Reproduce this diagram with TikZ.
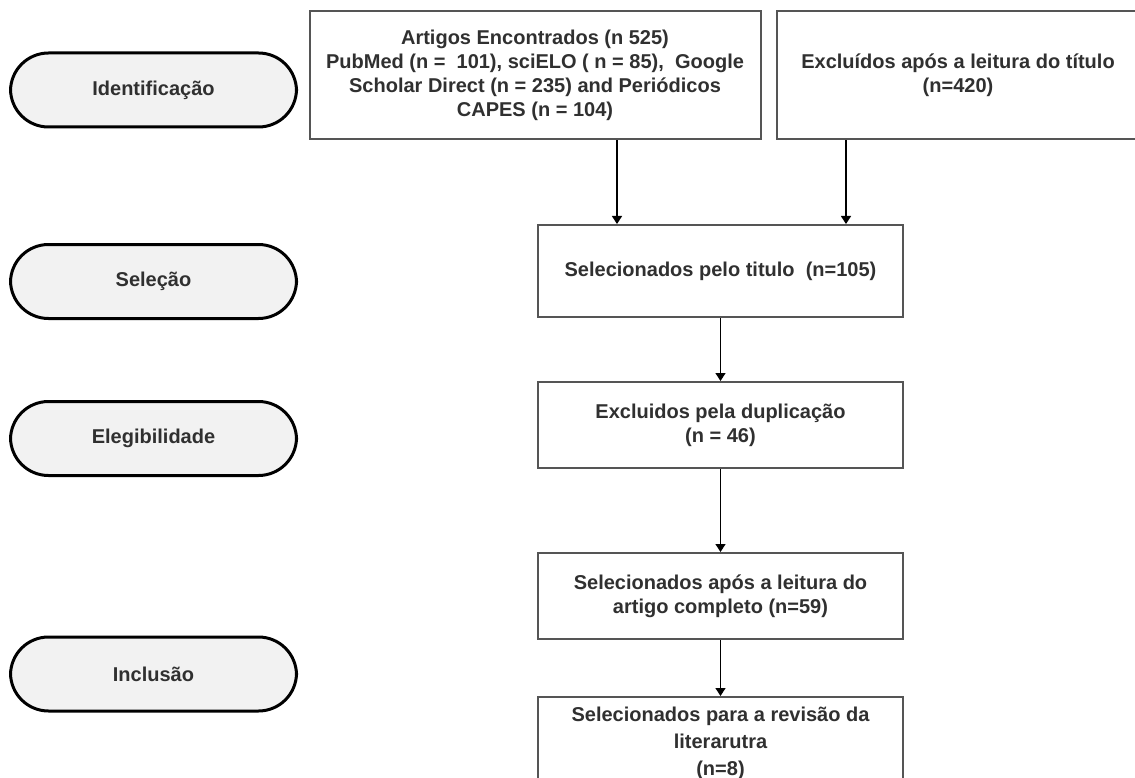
\documentclass[tikz,border=0pt]{standalone}
\usepackage{fontspec}
\setmainfont{Liberation Sans}
\usetikzlibrary{arrows.meta}
\definecolor{txt}{HTML}{303030}
\definecolor{boxline}{HTML}{555555}
\definecolor{pillfill}{HTML}{F2F2F2}
\tikzset{
  pill/.style={draw=black, line width=3pt, fill=pillfill, rounded corners=38pt,
    minimum width=286pt, minimum height=74pt, inner sep=0pt,
    font=\fontsize{20}{24}\selectfont\bfseries, text=txt},
  flowbox/.style={draw=boxline, line width=2pt, fill=white, inner sep=0pt,
    align=center, font=\fontsize{20}{24}\selectfont\bfseries, text=txt},
  arr/.style={draw=black, line width=1.3pt, -{Triangle[length=8pt,width=10pt]}}
}
\begin{document}
\begin{tikzpicture}[x=1pt,y=-1pt]
\useasboundingbox (0,0) rectangle (1135,778);
\clip (0,0) rectangle (1135,778);
% phase pills
\node[pill] (id)  at (153.5,90)  {Identificação};
\node[pill] (sel) at (153.5,281.5) {Seleção};
\node[pill] (ele) at (153.5,438.5) {Elegibilidade};
\node[pill] (inc) at (153.5,674) {Inclusão};
% flow boxes
\node[flowbox, minimum width=451pt, minimum height=128pt] (b1) at (535,75.5)
  {Artigos Encontrados (n 525)\\PubMed (n =\ \ 101), sciELO ( n = 85),\ \ Google\\Scholar Direct (n = 235) and Periódicos\\CAPES (n = 104)};
\node[flowbox, minimum width=362pt, minimum height=128pt] (b2) at (958,75.5)
  {Excluídos após a leitura do título\\(n=420)};
\node[flowbox, minimum width=365pt, minimum height=92pt] (b3) at (720.5,271)
  {Selecionados pelo titulo\ \ (n=105)};
\node[flowbox, minimum width=365pt, minimum height=86pt] (b4) at (720.5,425)
  {Excluidos pela duplicação\\(n = 46)};
\node[flowbox, minimum width=365pt, minimum height=86pt] (b5) at (720.5,596)
  {Selecionados após a leitura do\\artigo completo (n=59)};
\node[flowbox, minimum width=365pt, minimum height=93pt,
      font=\fontsize{20}{27}\selectfont\bfseries] (b6) at (720.5,743.5)
  {Selecionados para a revisão da\\literarutra\\(n=8)};
% connectors
\coordinate (a1x) at (617,0);
\coordinate (a2x) at (846,0);
\draw[arr] (b1.south -| a1x) -- (b3.north -| a1x);
\draw[arr] (b2.south -| a2x) -- (b3.north -| a2x);
\draw[arr] (b3) -- (b4);
\draw[arr] (b4) -- (b5);
\draw[arr] (b5) -- (b6);
\end{tikzpicture}
\end{document}
